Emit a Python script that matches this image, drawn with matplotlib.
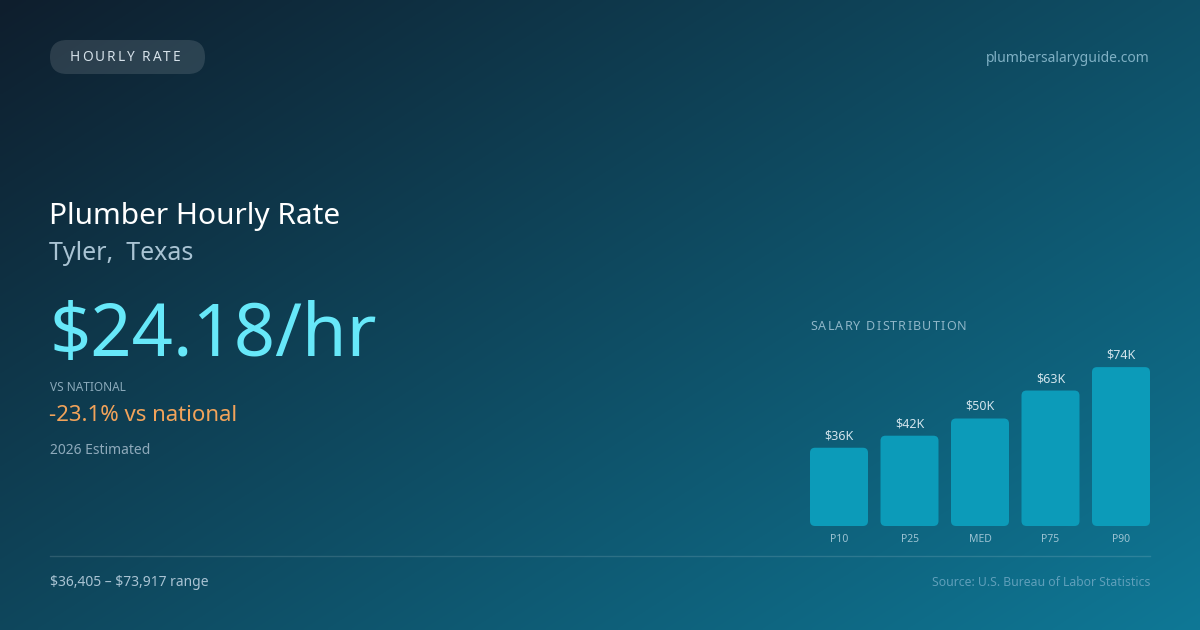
import numpy as np
import matplotlib
matplotlib.use("Agg")
import matplotlib.pyplot as plt
from matplotlib.patches import FancyBboxPatch

plt.rcParams['font.family'] = ['Noto Sans', 'DejaVu Sans']

# data
labels = ['P10', 'P25', 'MED', 'P75', 'P90']
values = [36.4, 42.0, 50.0, 63.0, 73.9]
value_text = [r'\$36K', r'\$42K', r'\$50K', r'\$63K', r'\$74K']

title = 'Plumber Hourly Rate'
location = 'Tyler,  Texas'
rate = r'\$24.18/hr'
vs_national = '-23.1% vs national'
range_text = '\\$36,405 \u2013 \\$73,917 range'

W, H = 1200, 630
fig = plt.figure(figsize=(12, 6.3), dpi=100)

# background gradient
bg = fig.add_axes([0, 0, 1, 1])
xx, yy = np.meshgrid(np.linspace(0, 1, 400), np.linspace(0, 1, 210))
t = np.clip(0.55 * xx + 0.45 * yy, 0, 1)
c0 = np.array([15, 30, 45]) / 255
c1 = np.array([14, 120, 150]) / 255
img = c0[None, None, :] * (1 - t[..., None]) + c1[None, None, :] * t[..., None]
bg.imshow(img, extent=[0, W, H, 0], aspect='auto', interpolation='bilinear')
bg.set_xlim(0, W)
bg.set_ylim(H, 0)
bg.axis('off')


def spaced(x, y, s, spacing, **kw):
    # draw text with letter spacing, char by char
    r = fig.canvas.get_renderer()
    for ch in s:
        tx = bg.text(x, y, ch, ha='left', va='center', **kw)
        bb = tx.get_window_extent(renderer=r)
        if ch == ' ':
            w = kw.get('fontsize', 10) * 100 / 72 * 0.26
        else:
            w = bb.width
        x += w + spacing


# pill
pill = FancyBboxPatch((50, 40), 155, 34, boxstyle='round,pad=0,rounding_size=17',
                      fc=(1, 1, 1, 0.12), ec='none')
bg.add_patch(pill)
spaced(70, 57.5, 'HOURLY RATE', 2.0, fontsize=9.8, color='#d6e2ea')

bg.text(1150, 58, 'plumbersalaryguide.com', ha='right', va='center',
        fontsize=10, color='#7fb0c4')

bg.text(49, 224, title, ha='left', va='baseline', fontsize=21.5, color='white')
bg.text(49, 260, location, ha='left', va='baseline', fontsize=18, color='#a9c3d3')
bg.text(49, 356, rate, ha='left', va='baseline', fontsize=52, color='#67e8f9')
bg.text(50, 387.5, 'VS NATIONAL', ha='left', va='center', fontsize=8.5, color='#8aa9ba')
bg.text(49, 421, vs_national, ha='left', va='baseline', fontsize=16, color='#f2a35a')
bg.text(50, 450.5, '2026 Estimated', ha='left', va='center', fontsize=10, color='#8eaabb')

bg.plot([50, 1150], [556, 556], color=(1, 1, 1, 0.13), lw=1)
bg.text(50, 582, range_text, ha='left', va='center', fontsize=10, color='#a9c3d3')
bg.text(1150, 582, 'Source: U.S. Bureau of Labor Statistics', ha='right', va='center',
        fontsize=8.8, color='#5f9fba')

spaced(810, 326, 'SALARY DISTRIBUTION', 1.2, fontsize=9, color='#8fb6c8')

# bar chart axes: x 810..1150, y 526 (bottom) .. 340 (top)
ax_l, ax_r, ax_b, ax_t = 810, 1150, 526, 340
ax = fig.add_axes([ax_l / W, 1 - ax_b / H, (ax_r - ax_l) / W, (ax_b - ax_t) / H])
ax.patch.set_alpha(0)
ax.axis('off')
px_per_k = 2.15
ax.set_ylim(0, (ax_b - ax_t) / px_per_k)
xs = np.arange(len(values))
bw = 58 / 70.5
ax.set_xlim(-bw / 2, len(values) - 1 + bw / 2)
bars = ax.bar(xs, values, width=bw, color='none')

x_per_px = (len(values) - 1 + bw) / (ax_r - ax_l)
y_per_px = 1 / px_per_k
for b, v, vt, lab in zip(bars, values, value_text, labels):
    b.set_visible(False)
    p = FancyBboxPatch((b.get_x(), 0), b.get_width(), v,
                       boxstyle='round,pad=0,rounding_size=%f' % (5 * x_per_px),
                       mutation_aspect=y_per_px / x_per_px,
                       fc='#0c9bb9', ec='none')
    ax.add_patch(p)
    ax.text(b.get_x() + b.get_width() / 2, v + 12 * y_per_px, vt, ha='center', va='center',
            fontsize=9, color='#d2e4ec')
    ax.text(b.get_x() + b.get_width() / 2, -14 * y_per_px, lab, ha='center', va='center',
            fontsize=7.5, color='#9cc3d3', clip_on=False)

fig.savefig('out.png', dpi=100)
